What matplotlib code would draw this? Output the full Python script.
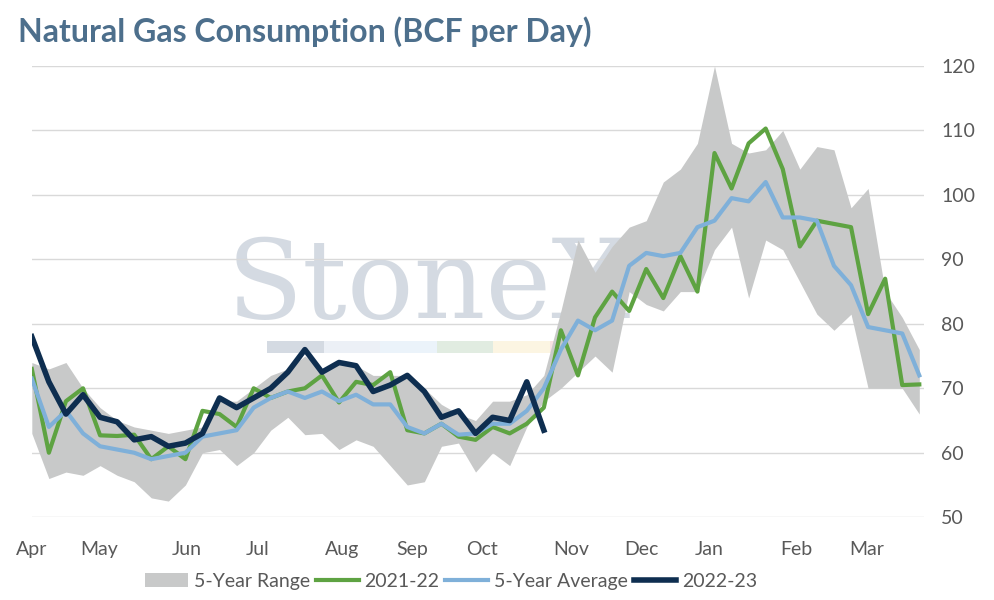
import matplotlib
matplotlib.use("Agg")
import matplotlib.pyplot as plt
import numpy as np

plt.rcParams['font.family'] = ['Lato', 'DejaVu Sans']

upper = [74,73,74,70,67,65,64,63.5,63,63.5, 64,68,68,70,72,73,75,73,74,73.5,
         72,72,72,70,67.5,66,65,68,68,69, 72,82,93,88,92,95,96,102,104,108,
         120,108,106.5,107,110,104,107.5,107,98,101, 85,81,76]
lower = [63,56,57,56.5,58,56.5,55.5,53,52.5,55, 60,60.5,58,60,63.5,65.5,62.8,63,60.5,62,
         61,58,55,55.5,61,61.5,57,60,58,64, 68,70,72.5,75,72.5,85,83,82,85,85,
         91.5,95,84,93,91.5,86.5,81.5,79,81.5,70, 70,70,66]
s2122 = [73,60,68,70,62.7,62.6,62.8,59,61,59, 66.5,66,64,70,68.5,69.5,70,72,67.8,71,
         70.5,72.5,63.5,63,64.5,62.5,62,64,63,64.5, 67,79,72,81,85,82,88.5,84,90.5,85,
         106.5,101,108,110.3,104,92,96,95.5,95,81.5, 87,70.5,70.6]
avg5 = [71.5,64,66.5,63,61,60.5,60,59,59.5,60, 62.5,63,63.5,67,68.5,69.5,68.5,69.5,68,69,
        67.5,67.5,64,63,64.5,62.8,63,64.5,64.5,66.5, 70,76,80.5,79,80.5,89,91,90.5,91,95,
        96,99.5,99,102,96.5,96.5,96,89,86,79.5, 79,78.5,72]
s2223 = [78,71,66,69,65.5,64.8,62,62.5,61,61.5, 63,68.5,67,68.5,70,72.5,76,72.5,74,73.5,
         69.5,70.5,72,69.5,65.5,66.5,63,65.5,65,71, 63.5]
months = ['Apr','May','Jun','Jul','Aug','Sep','Oct','Nov','Dec','Jan','Feb','Mar']
month_pos = [0,3.96,9.1,13.2,18.2,22.3,26.4,31.6,35.7,39.7,44.8,48.9]

fig = plt.figure(figsize=(9.94,6.0), dpi=100)
ax = fig.add_axes([0.032, 0.138, 0.898, 0.752])
x = np.arange(len(upper))
ax.text(0.445, 0.51, 'StoneX', transform=ax.transAxes, fontsize=80, family='DejaVu Serif',
        color='#2c4a70', alpha=0.2, ha='center', va='center', zorder=0.5)
cols = ['#2c4a70','#a0b8d6','#9dc4e6','#6aa06a','#f0d070','#e07070']
for i, c in enumerate(cols):
    ax.add_patch(plt.Rectangle((0.264+i*0.0632, 0.364), 0.0632, 0.027,
                 transform=ax.transAxes, color=c, alpha=0.2, lw=0, zorder=0.5))
ax.fill_between(x, lower, upper, color='#c8c9c9', lw=0, label='5-Year Range', zorder=1)
ax.plot(x, s2122, color='#5ea342', lw=3, label='2021-22', zorder=2)
ax.plot(x, avg5, color='#7fb0d9', lw=3, label='5-Year Average', zorder=3)
ax.plot(np.arange(len(s2223)), s2223, color='#0e2e50', lw=4, label='2022-23', zorder=4)

ax.set_xlim(0, 52.3)
ax.set_ylim(50, 120)
ax.set_yticks(range(50,121,10))
ax.yaxis.tick_right()
ax.tick_params(axis='y', length=0, labelsize=14, colors='#595959', pad=12)
ax.set_xticks(month_pos)
ax.set_xticklabels(months)
ax.tick_params(axis='x', length=0, labelsize=14, colors='#595959', pad=17)
ax.grid(axis='y', color='#d9d9d9', lw=1, zorder=0)
ax.set_axisbelow(True)
for s in ax.spines.values():
    s.set_visible(False)

fig.text(0.018, 0.93, 'Natural Gas Consumption (BCF per Day)', fontsize=23,
         fontweight='bold', color='#4d6f8c')

ax.legend(loc='upper center', bbox_to_anchor=(0.47, -0.085), ncol=4, frameon=False,
          fontsize=14, handlelength=2.2, columnspacing=0.3, handletextpad=0.3,
          labelcolor='#595959')
fig.savefig('out.png', dpi=100)
